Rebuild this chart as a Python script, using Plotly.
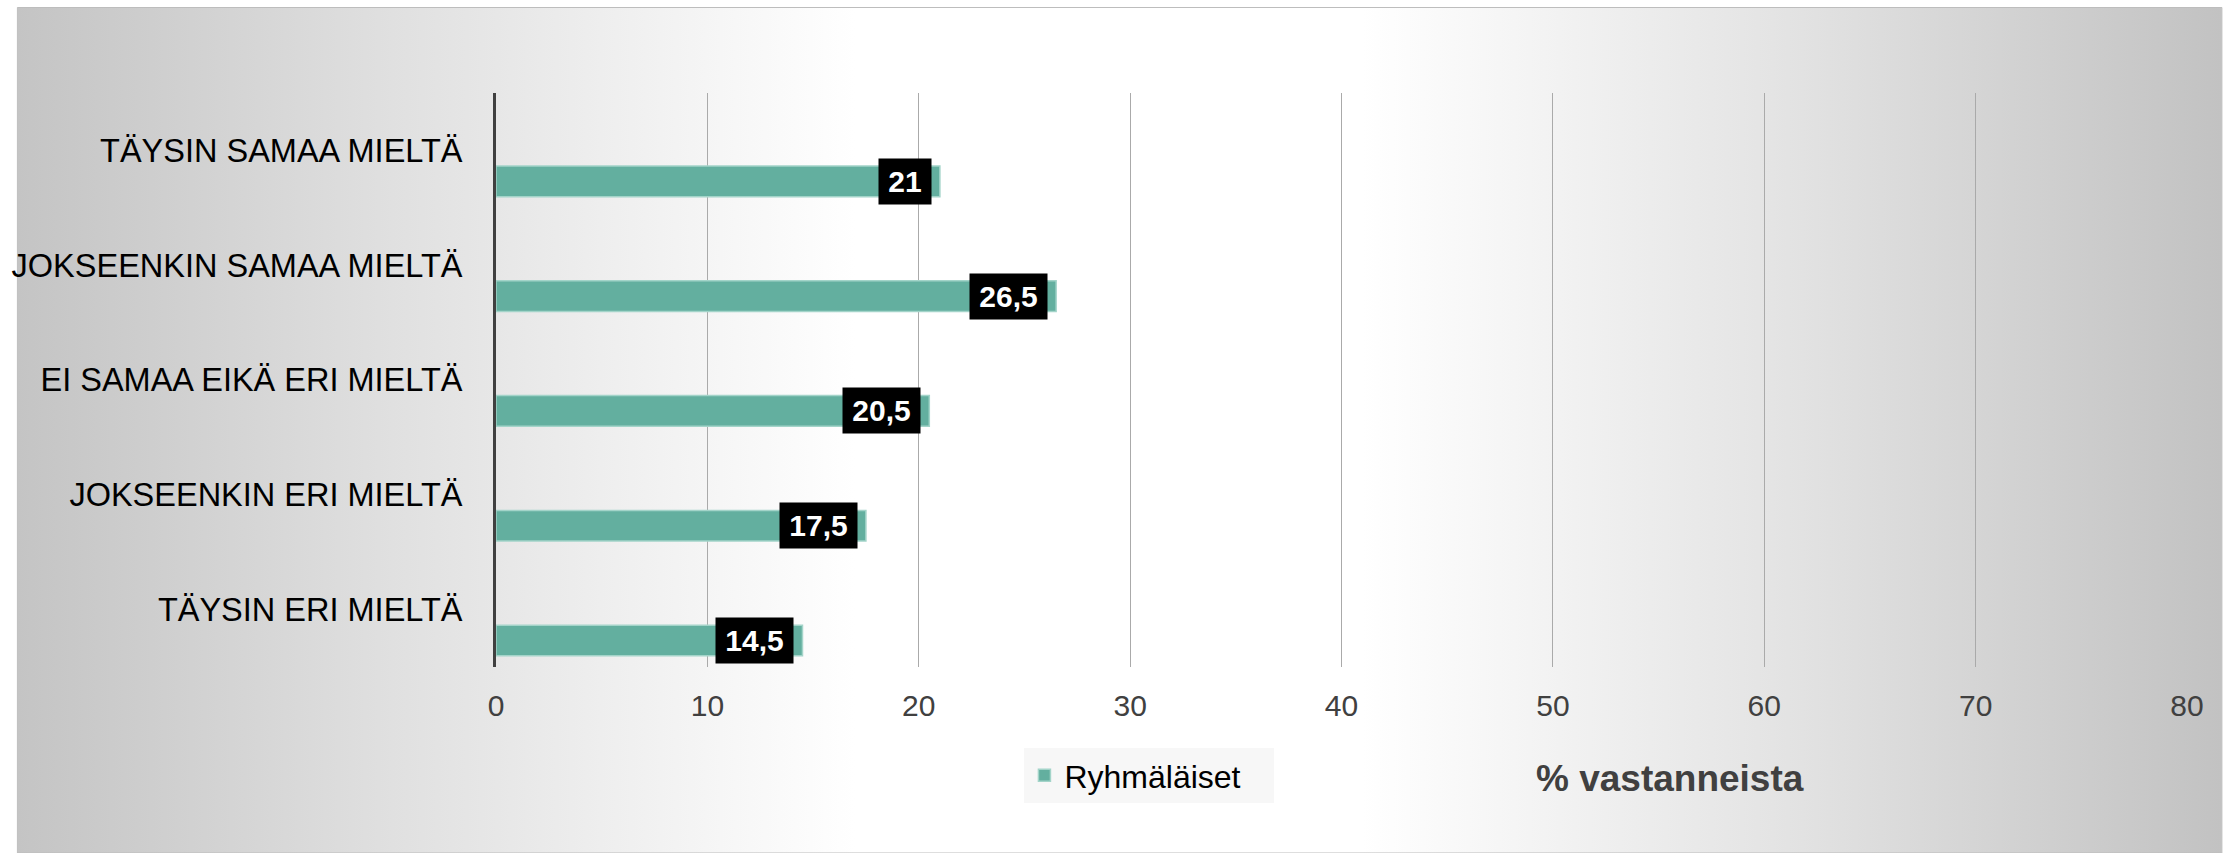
import base64
import plotly.graph_objects as go

# ---- data ----
categories = ["TÄYSIN SAMAA MIELTÄ", "JOKSEENKIN SAMAA MIELTÄ", "EI SAMAA EIKÄ ERI MIELTÄ",
              "JOKSEENKIN ERI MIELTÄ", "TÄYSIN ERI MIELTÄ"]
values = [21, 26.5, 20.5, 17.5, 14.5]
series_name = "Ryhmäläiset"
x_ticks = [0, 10, 20, 30, 40, 50, 60, 70, 80]
axis_note = "% vastanneista"

# ---- layout geometry (pixels) ----
W, H = 2233, 853
ML, MR, MT, MB = 491, 46, 93, 186
PW, PH = W - ML - MR, H - MT - MB


def px_x(px):
    return (px - ML) / PW


def px_y(py):
    return (H - MB - py) / PH


FONT = "Liberation Sans, Arial, Helvetica, sans-serif"
BAR_COLOR = "#63AF9F"
BAR_OFFSET = 0.136
BAR_WIDTH = 0.267


def fmt(v):
    return ("%g" % v).replace(".", ",")


def text_w(s, size):
    w = 0.0
    for ch in s:
        w += 0.278 if ch in ",." else 0.556
    return w * size


# background gradient (SVG data URI)
svg = (
    "<svg xmlns='http://www.w3.org/2000/svg' width='2211' height='846' preserveAspectRatio='none'>"
    "<defs><linearGradient id='g' x1='0' y1='0' x2='1' y2='0'>"
    "<stop offset='0' stop-color='#c4c4c4'/>"
    "<stop offset='0.17' stop-color='#e0e0e0'/>"
    "<stop offset='0.38' stop-color='#ffffff'/>"
    "<stop offset='0.61' stop-color='#ffffff'/>"
    "<stop offset='0.81' stop-color='#e2e2e2'/>"
    "<stop offset='1' stop-color='#c2c2c2'/>"
    "</linearGradient></defs>"
    "<rect width='100%' height='100%' fill='url(#g)'/></svg>"
)
svg_uri = "data:image/svg+xml;base64," + base64.b64encode(svg.encode()).decode()

fig = go.Figure()
fig.add_trace(go.Bar(
    y=categories,
    x=values,
    orientation="h",
    name=series_name,
    marker=dict(color=BAR_COLOR, line=dict(color="#A3D4C9", width=1.5)),
    offset=BAR_OFFSET,
    width=BAR_WIDTH,
    showlegend=True,
    hoverinfo="skip",
))

LBL_SIZE = 30
annotations = []
for i, v in enumerate(values):
    t = fmt(v)
    annotations.append(dict(
        x=v, y=i + BAR_OFFSET + BAR_WIDTH / 2, xref="x", yref="y",
        text="<b>%s</b>" % t, showarrow=False,
        xanchor="right", yanchor="middle", xshift=-8,
        font=dict(family=FONT, size=LBL_SIZE, color="white"),
        bgcolor="black", borderpad=3,
        width=round(text_w(t, LBL_SIZE) + 13), height=39,
    ))

annotations.append(dict(
    x=px_x(1668), y=px_y(778), xref="paper", yref="paper",
    text="<b>%s</b>" % axis_note, showarrow=False,
    xanchor="center", yanchor="middle",
    font=dict(family=FONT, size=37, color="#404040"),
))

fig.update_layout(
    width=W, height=H,
    margin=dict(l=ML, r=MR, t=MT, b=MB, pad=0),
    paper_bgcolor="white",
    plot_bgcolor="rgba(0,0,0,0)",
    font=dict(family=FONT, color="#000000"),
    bargap=0,
    xaxis=dict(
        range=[0, 80], tickvals=x_ticks, showgrid=True, gridcolor="#AAAAAA", gridwidth=1,
        zeroline=False, showline=False, ticks="", ticklabelstandoff=18,
        tickfont=dict(family=FONT, size=30, color="#404040"), fixedrange=True,
    ),
    yaxis=dict(
        type="category", categoryorder="array", categoryarray=categories,
        range=[len(categories) - 0.5, -0.5],
        showgrid=False, zeroline=False, showline=True, linecolor="#404040", linewidth=3,
        ticks="", ticklabelstandoff=24,
        tickfont=dict(family=FONT, size=32.5, color="#000000"), fixedrange=True,
    ),
    legend=dict(
        x=px_x(1021), y=px_y(748), xanchor="left", yanchor="top",
        orientation="h", bgcolor="#F7F7F7", borderwidth=0,
        entrywidth=205, entrywidthmode="pixels",
        font=dict(family=FONT, size=32, color="#000000"),
    ),
    images=[dict(
        source=svg_uri, xref="paper", yref="paper",
        x=px_x(11), y=px_y(7), sizex=px_x(2222) - px_x(11), sizey=px_y(7) - px_y(853),
        xanchor="left", yanchor="top", sizing="stretch", layer="below",
    )],
    shapes=[dict(
        type="rect", xref="paper", yref="paper",
        x0=px_x(11), x1=px_x(2222), y0=px_y(853), y1=px_y(7.5),
        line=dict(color="#BDBDBD", width=1), fillcolor="rgba(0,0,0,0)", layer="below",
    )],
    annotations=annotations,
)

fig.write_html(
    "out.html",
    config={"displayModeBar": False, "staticPlot": True},
    post_script="document.body.style.margin='0';document.body.style.overflow='hidden';",
)
